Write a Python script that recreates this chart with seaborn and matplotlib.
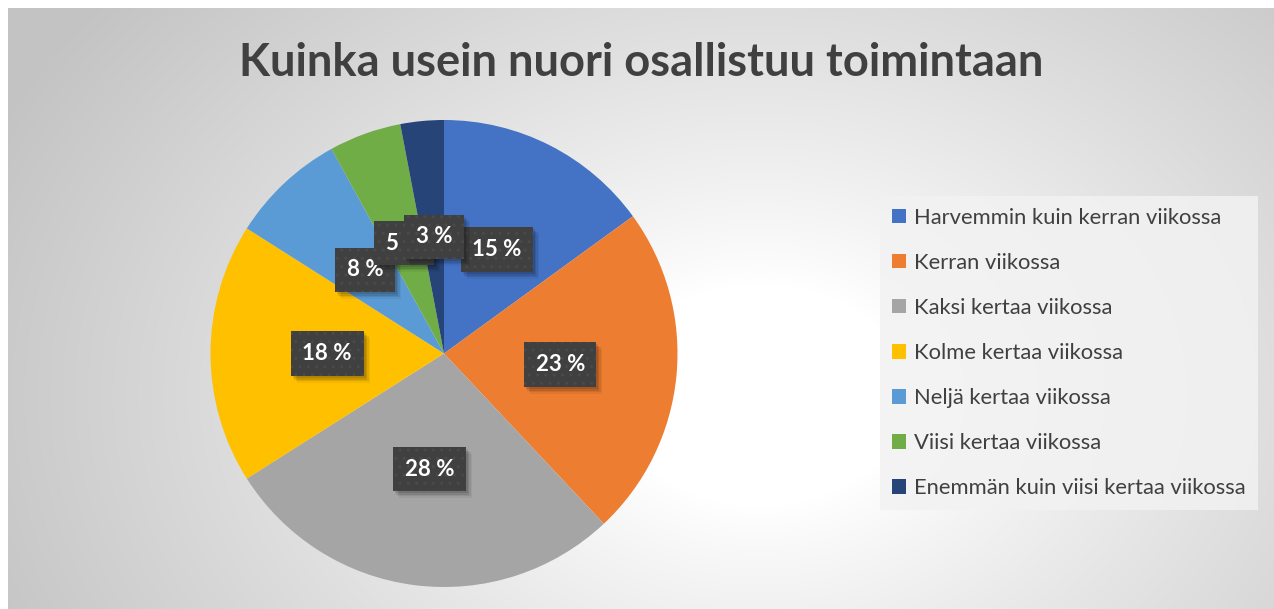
import numpy as np
import matplotlib
matplotlib.use("Agg")
import matplotlib.pyplot as plt
import seaborn as sns
from matplotlib.patches import Patch, Rectangle

# ---- data ----
title = "Kuinka usein nuori osallistuu toimintaan"
categories = [
    "Harvemmin kuin kerran viikossa",
    "Kerran viikossa",
    "Kaksi kertaa viikossa",
    "Kolme kertaa viikossa",
    "Neljä kertaa viikossa",
    "Viisi kertaa viikossa",
    "Enemmän kuin viisi kertaa viikossa",
]
values = [15, 23, 28, 18, 8, 5, 3]
colors = ["#4472C4", "#ED7D31", "#A5A5A5", "#FFC000", "#5B9BD5", "#70AD47", "#264478"]

# label nudges for the narrow slices (in pie-radius units)
label_override = {4: (-0.338, 0.358), 5: (-0.171, 0.473), 6: (-0.043, 0.499)}

sns.set_style("white")
plt.rcParams["font.family"] = ["Lato", "DejaVu Sans"]

W, H = 1274, 609
fig = plt.figure(figsize=(W / 100, H / 100), dpi=100)
fig.patch.set_facecolor("white")

# ---- background gradient ----
bg = fig.add_axes([8 / W, 0, (W - 8) / W, (H - 8) / H])
bg.set_axis_off()
xs = np.arange(8, W) + 0.5
ys = np.arange(8, H) + 0.5
X, Y = np.meshgrid(xs, ys)
cx, cy = 760, 395
d = np.sqrt(((X - cx) / 1.0) ** 2 + ((Y - cy) * 1.35) ** 2)
t = np.clip((d - 150) / 700, 0, 1) ** 0.9
g = 1 - 0.235 * t
img = np.dstack([g, g, g])
bg.imshow(img, extent=(0, 1, 0, 1), aspect="auto", origin="upper", interpolation="bilinear")
bg.set_xlim(0, 1)
bg.set_ylim(0, 1)

# ---- pie ----
R = 233.5
pcx, pcy = 444, 353.5
pax = fig.add_axes([(pcx - R) / W, (H - pcy - R) / H, 2 * R / W, 2 * R / H])
wedges, _ = pax.pie(values, colors=colors, startangle=90, counterclock=False,
                    wedgeprops=dict(linewidth=0))
pax.set_xlim(-1, 1)
pax.set_ylim(-1, 1)
pax.set_aspect("equal")

label_font = dict(family=["Lato", "DejaVu Sans"], weight="bold", size=16, color="white")
box = "square,pad=0.52"
labels = []
for i, (w, v) in enumerate(zip(wedges, values)):
    if i in label_override:
        lx, ly = label_override[i]
    else:
        ang = np.deg2rad((w.theta1 + w.theta2) / 2)
        lx, ly = 0.5 * np.cos(ang), 0.5 * np.sin(ang)
    tx = pax.text(lx, ly, f"{v} %", ha="center", va="center", zorder=6 + 2 * i, **label_font,
                  bbox=dict(boxstyle=box, facecolor="#404040", edgecolor="#4a4a4a",
                            linewidth=0, hatch=".."))
    labels.append(tx)

# ---- title ----
target_w = 803
tt = fig.text(641.5 / W, 1 - 76 / H, title, ha="center", va="baseline",
              family=["Lato", "DejaVu Sans"], weight="bold", size=28, color="#404040")
fig.canvas.draw()
r = fig.canvas.get_renderer()
tw = tt.get_window_extent(r).width
tt.set_fontsize(28 * target_w / tw)

# ---- soft shadows behind label boxes (as patches) ----
inv = pax.transData.inverted()
for i, tx in enumerate(labels):
    bb = tx.get_bbox_patch().get_window_extent(r)
    for (ox, oy, a) in [(2, -2, 0.10), (3, -4, 0.10), (5, -5, 0.08), (6, -7, 0.05)]:
        (x0, y0) = inv.transform((bb.x0 + ox, bb.y0 + oy))
        (x1, y1) = inv.transform((bb.x1 + ox, bb.y1 + oy))
        pax.add_patch(Rectangle((x0, y0), x1 - x0, y1 - y0, facecolor=(0, 0, 0, a),
                                edgecolor="none", zorder=5 + 2 * i))

# ---- legend ----
handles = [Patch(facecolor=c, edgecolor="none") for c in colors]
leg = fig.legend(handles, categories, loc="upper left",
                 bbox_to_anchor=(880 / W, 1 - 196 / H), frameon=True, fancybox=False,
                 facecolor="#f2f2f2", edgecolor="none", framealpha=0.85,
                 fontsize=15.8, labelcolor="#404040", handlelength=0.62, handleheight=0.62,
                 handletextpad=0.4, labelspacing=1.14, borderpad=0.55, borderaxespad=0)
for t_ in leg.get_texts():
    t_.set_family(["Lato", "DejaVu Sans"])

fig.savefig("out.png", dpi=100)
